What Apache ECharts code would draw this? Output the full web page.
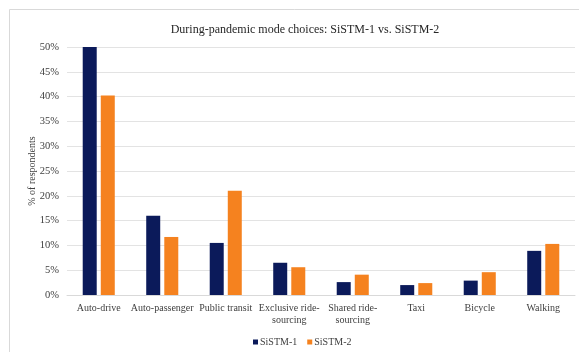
<!DOCTYPE html>
<html>
<head>
<meta charset="utf-8">
<script src="https://cdn.jsdelivr.net/npm/echarts@6/dist/echarts.min.js"></script>
<style>
  html, body { margin: 0; padding: 0; background: #ffffff; }
  #chart { width: 579px; height: 352px; }
</style>
</head>
<body>
<div id="chart"></div>
<script>
// Mode categories (x axis)
const categories = [
  'Auto-drive', 'Auto-passenger', 'Public transit', 'Exclusive ride-\nsourcing',
  'Shared ride-\nsourcing', 'Taxi', 'Bicycle', 'Walking'
];
// Share of respondents (%) per survey wave
const sistm1 = [50.0, 16.0, 10.5, 6.5, 2.6, 2.0, 2.9, 8.9];
const sistm2 = [40.2, 11.7, 21.0, 5.6, 4.1, 2.4, 4.6, 10.3];
const seriesNames = ['SiSTM-1', 'SiSTM-2'];
// Y axis range (percent)
const yMin = 0, yMax = 50, yStep = 5;

const serif = "'Liberation Serif', 'Times New Roman', serif";
const textColor = '#404040';

const chart = echarts.init(document.getElementById('chart'), null, { renderer: 'canvas' });
chart.setOption({
  backgroundColor: '#ffffff',
  animation: false,
  textStyle: { fontFamily: serif },
  graphic: [{
    type: 'rect',
    shape: { x: 9.5, y: 9.5, width: 700, height: 500 },
    style: { fill: 'none', stroke: '#d9d9d9', lineWidth: 1 },
    silent: true
  }],
  title: {
    text: 'During-pandemic mode choices: SiSTM-1 vs. SiSTM-2',
    left: 300, top: 19, textAlign: 'center',
    textStyle: { fontFamily: serif, fontSize: 12, fontWeight: 'normal', color: '#262626' }
  },
  legend: {
    data: seriesNames,
    top: 332, left: 248,
    itemWidth: 5, itemHeight: 5, itemGap: 10,
    icon: 'rect',
    textStyle: { fontFamily: serif, fontSize: 10, color: textColor, padding: [0, 0, 0, -3] }
  },
  grid: { left: 67, right: 4, top: 47, bottom: 57, containLabel: false },
  xAxis: {
    type: 'category',
    data: categories,
    axisTick: { show: false },
    axisLine: { lineStyle: { color: '#d9d9d9' } },
    axisLabel: {
      interval: 0, margin: 7, lineHeight: 12.5,
      fontFamily: serif, fontSize: 10, color: textColor
    }
  },
  yAxis: {
    type: 'value',
    min: yMin, max: yMax, interval: yStep,
    name: '% of respondents',
    nameLocation: 'middle', nameGap: 30, nameRotate: 90,
    nameMoveOverlap: false,
    nameTextStyle: { fontFamily: serif, fontSize: 10, color: textColor },
    axisLine: { show: false },
    axisTick: { show: false },
    splitLine: { lineStyle: { color: '#e3e3e3', width: 1 } },
    axisLabel: {
      margin: 8, fontFamily: serif, fontSize: 10.5, color: textColor,
      formatter: v => v + '%'
    }
  },
  series: [
    {
      name: seriesNames[0], type: 'bar', data: sistm1,
      barWidth: 14, barGap: '29%',
      itemStyle: { color: '#0b1a5a' }
    },
    {
      name: seriesNames[1], type: 'bar', data: sistm2,
      barWidth: 14,
      itemStyle: { color: '#f5821f' }
    }
  ]
});
</script>
</body>
</html>
